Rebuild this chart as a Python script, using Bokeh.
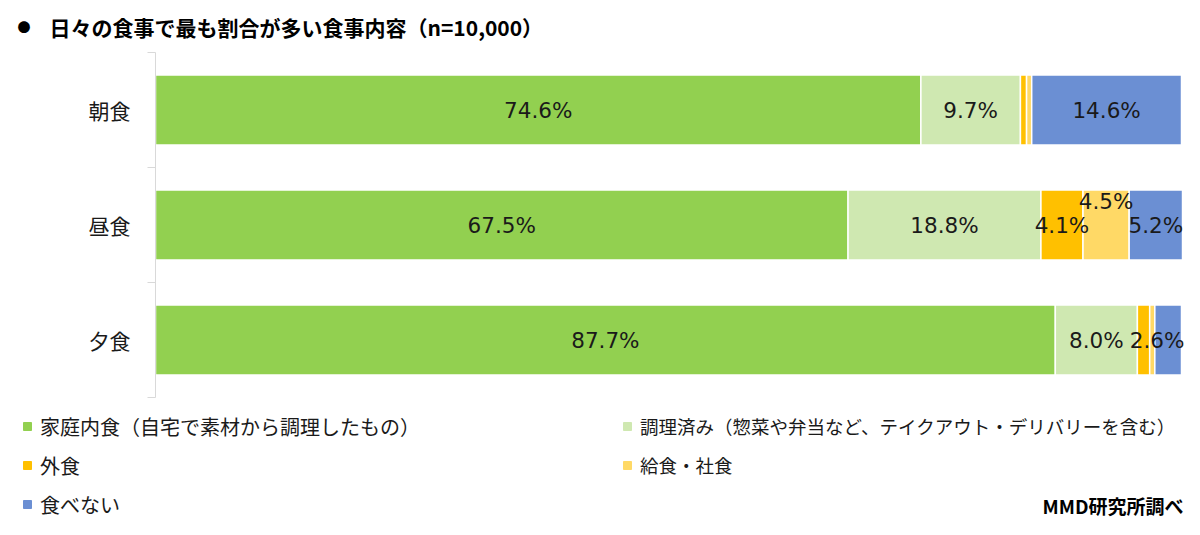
import numpy as np
from bokeh.plotting import figure
from bokeh.layouts import column
from bokeh.models import (ColumnDataSource, Range1d, FixedTicker, LabelSet, Label,
                          Legend, LegendItem)
from bokeh.embed import file_html
from bokeh.resources import INLINE
from bokeh.core.properties import value

# ---------------- data ----------------
title_text = "日々の食事で最も割合が多い食事内容（n=10,000）"
source_note = "MMD研究所調べ"
meals = ["朝食", "昼食", "夕食"]
series_names = ["家庭内食（自宅で素材から調理したもの）",
                "調理済み（惣菜や弁当など、テイクアウト・デリバリーを含む）",
                "外食", "給食・社食", "食べない"]
home = [74.6, 67.5, 87.7]
prepared = [9.7, 18.8, 8.0]
eat_out = [0.6, 4.1, 1.2]
cafeteria = [0.5, 4.5, 0.5]
skip = [14.6, 5.2, 2.6]
colors = ["#92d050", "#cfe8b1", "#ffc000", "#ffd966", "#6b8fd3"]

series = [home, prepared, eat_out, cafeteria, skip]
keys = ["s0", "s1", "s2", "s3", "s4"]

# ---------------- layout constants ----------------
W = 1184
H_TOP, H_MAIN, H_LEG = 44, 361, 114
JP = "Noto Sans CJK JP"
TXT = "#1a1a1a"


def blank_fig(h):
    f = figure(width=W, height=h, output_backend="svg", toolbar_location=None,
               x_range=Range1d(0, W), y_range=Range1d(0, h),
               min_border=0, min_border_left=0, min_border_right=0,
               min_border_top=0, min_border_bottom=0, frame_align=False)
    f.outline_line_color = None
    f.axis.visible = False
    f.grid.visible = False
    return f


# ---------------- title strip ----------------
top = blank_fig(H_TOP)
top.add_layout(Label(x=23.5, y=18, x_units="screen", y_units="screen", text="●",
                     text_font=JP, text_font_size="13px", text_color="black",
                     text_align="center", text_baseline="middle"))
top.add_layout(Label(x=49, y=18, x_units="screen", y_units="screen", text=title_text,
                     text_font=JP, text_font_size="21px", text_font_style="bold",
                     text_color="black", text_baseline="middle"))

# ---------------- main chart ----------------
ypos = list(range(len(meals)))
data = {"y": ypos}
for k, s in zip(keys, series):
    data[k] = s
source = ColumnDataSource(data)

FRAME_L, BAR_R = 155, 1181          # pixel of 0% and 100%
x_end = 100 * (W - FRAME_L) / (BAR_R - FRAME_L)

p = figure(width=W, height=H_MAIN, output_backend="svg", toolbar_location=None,
           x_range=Range1d(0, x_end), y_range=Range1d(len(meals) - 0.5, -0.5),
           min_border_left=FRAME_L, min_border_right=0, min_border_top=8,
           min_border_bottom=8, frame_align=False)
p.outline_line_color = None
p.xgrid.visible = False
p.ygrid.visible = False
p.xaxis.visible = False

renderers = p.hbar_stack(keys, y="y", height=0.61, color=colors,
                         line_color="white", line_width=1.5, source=source)

yax = p.yaxis[0]
yax.ticker = FixedTicker(ticks=ypos,
                         minor_ticks=[i - 0.5 for i in range(len(meals) + 1)])
yax.major_label_overrides = {i: m for i, m in enumerate(meals)}
yax.axis_line_color = "#d9d9d9"
yax.major_tick_line_color = None
yax.major_tick_out = 0
yax.major_tick_in = 0
yax.minor_tick_line_color = "#d9d9d9"
yax.minor_tick_out = 8
yax.minor_tick_in = 0
yax.major_label_standoff = 17
yax.major_label_text_font = JP
yax.major_label_text_font_size = "21px"
yax.major_label_text_color = TXT

# value labels (small shares are not labelled)
lx, ly, lt, lyo, lxo = [], [], [], [], []
label_y_offsets = {(1, 3): 24}
label_x_offsets = {(2, 4): -11}
for i in range(len(meals)):
    cum = 0.0
    for j, s in enumerate(series):
        v = s[i]
        if v >= 2.0:
            lx.append(cum + v / 2)
            ly.append(ypos[i])
            lt.append(f"{v:.1f}%")
            lyo.append(label_y_offsets.get((i, j), 0))
            lxo.append(label_x_offsets.get((i, j), 0))
        cum += v
lab_src = ColumnDataSource(dict(x=lx, y=ly, t=lt, yo=lyo, xo=lxo))
p.add_layout(LabelSet(x="x", y="y", text="t", y_offset="yo", x_offset="xo",
                      source=lab_src, text_align="center", text_baseline="middle",
                      text_font=value("DejaVu Sans"), text_font_size="21.5px",
                      text_color=TXT))

# ---------------- legend strip ----------------
leg = blank_fig(H_LEG)
# zero-width proxy bars (below the visible range) that only carry the legend colours
proxy_src = ColumnDataSource(dict(y=[-100], left=[0], right=[0]))
proxies = [leg.hbar(y="y", left="left", right="right", height=1, source=proxy_src,
                    fill_color=c, line_color=c) for c in colors]


def make_legend(idx, loc, size):
    return Legend(items=[LegendItem(label=series_names[i], renderers=[proxies[i]]) for i in idx],
                  location=loc, orientation="vertical", glyph_width=10, glyph_height=10,
                  label_height=30, spacing=9, padding=0, margin=0, label_standoff=8,
                  border_line_color=None, background_fill_alpha=0,
                  label_text_font=JP, label_text_font_size=size, label_text_color=TXT)


leg.add_layout(make_legend([0, 2, 4], (22, 0), "20px"))
leg.add_layout(make_legend([1, 3], (622, 39), "18.5px"))
leg.add_layout(Label(x=1183, y=14, x_units="screen", y_units="screen", text=source_note,
                     text_font=JP, text_font_size="19px", text_font_style="bold",
                     text_color="black", text_baseline="middle", text_align="right"))

layout = column(top, p, leg, spacing=0)
open("out.html", "w").write(file_html(layout, INLINE))
